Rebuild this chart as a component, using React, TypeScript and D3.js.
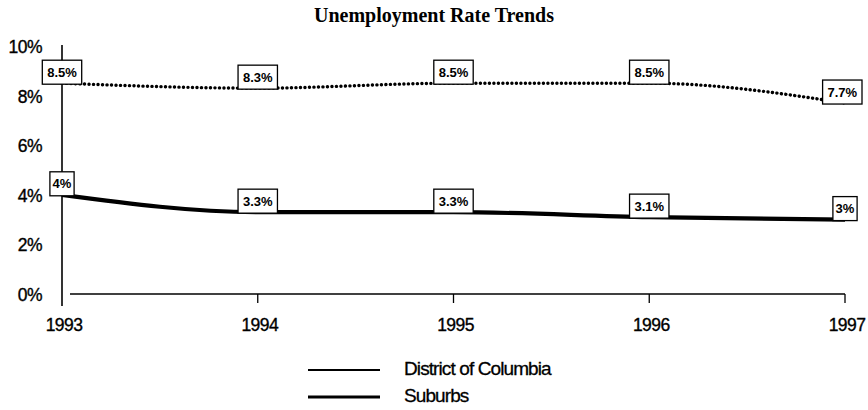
import React from "react";
import * as d3 from "d3";

const years = ["1993", "1994", "1995", "1996", "1997"];
const dcValues = [8.5, 8.3, 8.5, 8.5, 7.7];
const suburbValues = [4, 3.3, 3.3, 3.1, 3];
const dcLabels = ["8.5%", "8.3%", "8.5%", "8.5%", "7.7%"];
const suburbLabels = ["4%", "3.3%", "3.3%", "3.1%", "3%"];
const yTicks = [0, 2, 4, 6, 8, 10];
const seriesNames = ["District of Columbia", "Suburbs"];

const W = 868;
const H = 410;
const FONT = "'Liberation Sans', Arial, Helvetica, sans-serif";

export default function App() {
  const x = d3.scalePoint<string>().domain(years).range([62, 845]);
  const y = d3.scaleLinear().domain([0, 10]).range([294, 46]);

  const line = d3
    .line<number>()
    .x((_, i) => x(years[i]) as number)
    .y((d) => y(d))
    .curve(d3.curveMonotoneX);

  const labelBox = (label: string, xi: number, yi: number, key: string) => {
    const w = label.length * 7.6 + 9;
    const h = 24;
    let cx = xi;
    if (cx + w / 2 > 862) cx = 862 - w / 2;
    if (cx - w / 2 < 40) cx = 40 + w / 2;
    const bottom = yi + 1;
    return (
      <g key={key}>
        <rect
          x={cx - w / 2}
          y={bottom - h}
          width={w}
          height={h}
          fill="#fff"
          stroke="#000"
          strokeWidth={1.3}
        />
        <text
          x={cx}
          y={bottom - h / 2}
          textAnchor="middle"
          dominantBaseline="central"
          fontFamily={FONT}
          fontWeight="bold"
          fontSize={13}
          fill="#000"
        >
          {label}
        </text>
      </g>
    );
  };

  const tickTextProps = {
    fontFamily: FONT,
    fontSize: 17.5,
    fill: "#000",
    stroke: "#000",
    strokeWidth: 0.35,
  };

  return (
    <svg
      width={W}
      height={H}
      style={{ position: "absolute", left: 0, top: 0, background: "#fff" }}
    >
      <rect x={0} y={0} width={W} height={H} fill="#fff" />
      <text
        x={434}
        y={22}
        textAnchor="middle"
        fontFamily="'Liberation Serif', 'Times New Roman', serif"
        fontWeight="bold"
        fontSize={20}
        fill="#000"
      >
        Unemployment Rate Trends
      </text>

      {/* y axis */}
      <line x1={62} x2={62} y1={45} y2={306} stroke="#000" strokeWidth={1.6} />
      {yTicks.map((t) => (
        <text
          key={t}
          x={42}
          y={y(t) + 1}
          textAnchor="end"
          dominantBaseline="central"
          letterSpacing={-0.5}
          {...tickTextProps}
        >
          {t}%
        </text>
      ))}

      {/* x axis */}
      <line x1={70} x2={845} y1={294} y2={294} stroke="#000" strokeWidth={1.3} />
      {years.slice(1).map((yr) => (
        <line
          key={yr}
          x1={x(yr)}
          x2={x(yr)}
          y1={294}
          y2={303}
          stroke="#000"
          strokeWidth={1.3}
        />
      ))}
      {years.map((yr) => (
        <text
          key={yr}
          x={(x(yr) as number) + 2}
          y={325}
          textAnchor="middle"
          dominantBaseline="central"
          letterSpacing={-0.6}
          {...tickTextProps}
        >
          {yr}
        </text>
      ))}

      {/* series */}
      <path
        d={line(dcValues) || ""}
        fill="none"
        stroke="#000"
        strokeWidth={3.4}
        strokeDasharray="0.1 4.4"
        strokeLinecap="round"
      />
      <path
        d={line(suburbValues) || ""}
        fill="none"
        stroke="#000"
        strokeWidth={4.2}
      />

      {/* labels */}
      {dcValues.map((v, i) =>
        labelBox(dcLabels[i], x(years[i]) as number, y(v), "dc" + i)
      )}
      {suburbValues.map((v, i) =>
        labelBox(suburbLabels[i], x(years[i]) as number, y(v), "sb" + i)
      )}

      {/* legend */}
      {seriesNames.map((name, i) => (
        <g key={name}>
          <line
            x1={308}
            x2={380}
            y1={370 + i * 27}
            y2={370 + i * 27}
            stroke="#000"
            strokeWidth={i === 0 ? 2 : 3}
          />
          <text
            x={404}
            y={368 + i * 27}
            dominantBaseline="central"
            fontFamily={FONT}
            fontSize={19}
            letterSpacing={-0.9}
            fill="#000"
            stroke="#000"
            strokeWidth={0.3}
          >
            {name}
          </text>
        </g>
      ))}
    </svg>
  );
}
